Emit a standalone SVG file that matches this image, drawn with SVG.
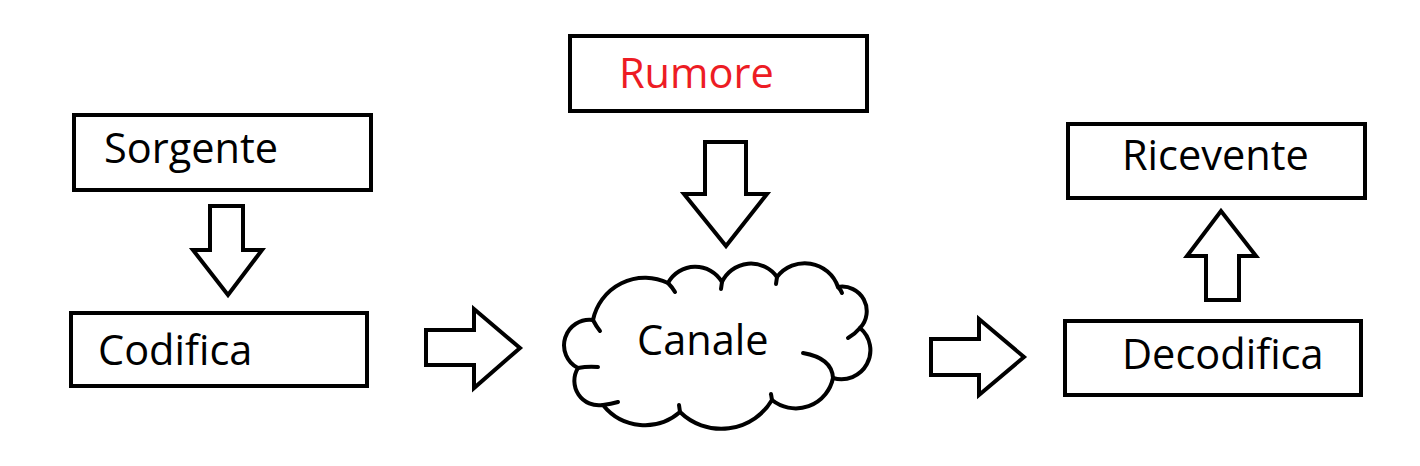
<svg xmlns="http://www.w3.org/2000/svg" width="1420" height="466" viewBox="0 0 1420 466">
<style>
.box{fill:#fff;stroke:#000;stroke-width:4}
.arr{fill:#fff;stroke:#000;stroke-width:4;stroke-linejoin:miter}
.cl{fill:#fff;stroke:#000;stroke-width:4;stroke-linejoin:round;stroke-linecap:round}
.hk{fill:none;stroke:#000;stroke-width:4;stroke-linecap:round}
.t{font-family:"Open Sans","Noto Sans",sans-serif;font-size:41.5px;fill:#000}
.red{fill:#ED1C24}
</style>
<rect width="1420" height="466" fill="#fff"/>
<g id="sorgente"><rect class="box" x="74" y="115" width="297" height="75"/><text class="t" x="104" y="163">Sorgente</text></g>
<g id="codifica"><rect class="box" x="71" y="313" width="296" height="73"/><text class="t" x="98" y="365">Codifica</text></g>
<g id="rumore"><rect class="box" x="570" y="36" width="297" height="75"/><text class="t red" x="619" y="88">Rumore</text></g>
<g id="canale">
<path class="cl" d="M593,320 A53,53 0 0 1 668,283 A31,31 0 0 1 722,282 A32,32 0 0 1 777,277 A35,35 0 0 1 838,287 A24.5,24.5 0 0 1 860,328 A29,29 0 0 1 833,378 A38,38 0 0 1 772,400 A59,59 0 0 1 680,412 A53.5,53.5 0 0 1 603,405 A24.5,24.5 0 0 1 578,368 A25.5,25.5 0 0 1 593,320 Z"/>
<path class="hk" d="M593,320 Q596,326 600,331"/>
<path class="hk" d="M668,283 Q672,287 675,292"/>
<path class="hk" d="M722,282 L721,289"/>
<path class="hk" d="M777,277 L776,284"/>
<path class="hk" d="M838,287 Q841,290 842,293"/>
<path class="hk" d="M860,328 Q855,334 848,338"/>
<path class="hk" d="M833,378 Q832,358 803,353"/>
<path class="hk" d="M772,400 L771,394"/>
<path class="hk" d="M680,412 L679,405"/>
<path class="hk" d="M603,405 Q611,404 618,402"/>
<path class="hk" d="M578,368 Q588,366 598,367"/>
<text class="t" x="637" y="355">Canale</text>
</g>
<g id="ricevente"><rect class="box" x="1068" y="124" width="297" height="74"/><text class="t" x="1122" y="170">Ricevente</text></g>
<g id="decodifica"><rect class="box" x="1065" y="321" width="296" height="74"/><text class="t" x="1122" y="369">Decodifica</text></g>
<g id="connectors">
<path class="arr" d="M210,206 H243 V250 H262 L228,295 L193,250 H210 Z"/>
<path class="arr" d="M705,142 H746 V194 H767 L726,246 L684,194 H705 Z"/>
<path class="arr" d="M426,330 H474 V309 L520,348 L474,388 V365 H426 Z"/>
<path class="arr" d="M931,339 H979 V319 L1024,357 L979,395 V375 H931 Z"/>
<path class="arr" d="M1206,300 V256 H1187 L1221,211 L1256,256 H1239 V300 Z"/>
</g>
</svg>
